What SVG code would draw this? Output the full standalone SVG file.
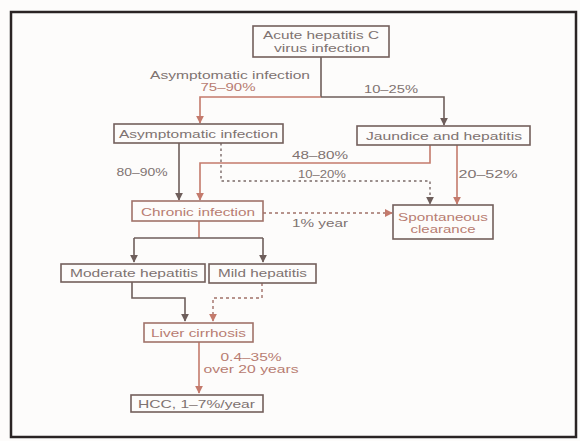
<svg xmlns="http://www.w3.org/2000/svg" width="580" height="441" viewBox="0 0 580 441">
<style>
text{font-family:"Liberation Sans",Arial,sans-serif;font-size:11.5px;fill:#7f7371;text-anchor:middle}
.r{fill:#b87c72}
.box{fill:none;stroke:#735f5c;stroke-width:1.6}
.boxr{fill:none;stroke:#a0726a;stroke-width:1.6}
.ln{fill:none;stroke:#6e5e5b;stroke-width:1.6}
.lr{fill:none;stroke:#c47a6c;stroke-width:1.6}
.dt{fill:none;stroke:#7a6a68;stroke-width:1.4;stroke-dasharray:2.5 3}
.dr{fill:none;stroke:#a07068;stroke-width:1.4;stroke-dasharray:3 3}
</style>
<defs>
<marker id="ag" viewBox="0 0 10 10" refX="9" refY="5" markerWidth="8" markerHeight="8" orient="auto" markerUnits="userSpaceOnUse"><path d="M0,0L10,5L0,10z" fill="#6e5e5b"/></marker>
<marker id="ar" viewBox="0 0 10 10" refX="9" refY="5" markerWidth="8" markerHeight="8" orient="auto" markerUnits="userSpaceOnUse"><path d="M0,0L10,5L0,10z" fill="#c47a6c"/></marker>
</defs>
<rect x="0" y="0" width="580" height="441" fill="#fdfcfb"/>
<rect x="11" y="12" width="565" height="425" fill="none" stroke="#2a2424" stroke-width="2.5"/>
<g id="connectors">
<path class="ln" d="M321,57V97"/>
<path class="lr" d="M321,97H200V123" marker-end="url(#ar)"/>
<path class="ln" d="M321,97H444V125" marker-end="url(#ag)"/>
<path class="ln" d="M179,143V200" marker-end="url(#ag)"/>
<path class="dt" d="M221,143V181H430V204" marker-end="url(#ag)"/>
<path class="lr" d="M430,145V163H200V200" marker-end="url(#ar)"/>
<path class="lr" d="M457,145V204" marker-end="url(#ar)"/>
<path class="dr" d="M263,213H392" marker-end="url(#ar)"/>
<path class="lr" d="M199,221V238"/>
<path class="ln" d="M134,238H263"/>
<path class="ln" d="M134,238V262" marker-end="url(#ag)"/>
<path class="ln" d="M263,238V262" marker-end="url(#ag)"/>
<path class="ln" d="M132,282V298H185V321" marker-end="url(#ag)"/>
<path class="dr" d="M262,283V298H213V321" marker-end="url(#ar)"/>
<path class="lr" d="M199,342V393" marker-end="url(#ar)"/>
</g>
<g id="labels">
<text x="230" y="79" textLength="160" lengthAdjust="spacingAndGlyphs">Asymptomatic infection</text>
<text x="228" y="91" textLength="55" lengthAdjust="spacingAndGlyphs" class="r">75–90%</text>
<text x="391" y="93" textLength="54" lengthAdjust="spacingAndGlyphs">10–25%</text>
<text x="320" y="159" textLength="56" lengthAdjust="spacingAndGlyphs">48–80%</text>
<text x="142" y="176" textLength="51" lengthAdjust="spacingAndGlyphs">80–90%</text>
<text x="322" y="178" textLength="48" lengthAdjust="spacingAndGlyphs">10–20%</text>
<text x="488" y="178" textLength="59" lengthAdjust="spacingAndGlyphs">20–52%</text>
<text x="320" y="227" textLength="56" lengthAdjust="spacingAndGlyphs">1% year</text>
<text x="251" y="361" textLength="61" lengthAdjust="spacingAndGlyphs" class="r">0.4–35%</text>
<text x="251" y="373" textLength="95" lengthAdjust="spacingAndGlyphs" class="r">over 20 years</text>
</g>
<g id="acute">
<rect class="box" x="253" y="26" width="136" height="31"/>
<text x="321" y="39" textLength="116" lengthAdjust="spacingAndGlyphs">Acute hepatitis C</text>
<text x="322" y="52" textLength="96" lengthAdjust="spacingAndGlyphs">virus infection</text>
</g>
<g id="asymptomatic">
<rect class="box" x="114" y="124" width="169" height="19"/>
<text x="198.5" y="138" textLength="159" lengthAdjust="spacingAndGlyphs">Asymptomatic infection</text>
</g>
<g id="jaundice">
<rect class="box" x="357" y="126" width="173" height="19"/>
<text x="444" y="140" textLength="156" lengthAdjust="spacingAndGlyphs">Jaundice and hepatitis</text>
</g>
<g id="chronic">
<rect class="boxr" x="132" y="201" width="131" height="20"/>
<text x="198" y="216" textLength="114" lengthAdjust="spacingAndGlyphs" class="r">Chronic infection</text>
</g>
<g id="spontaneous">
<rect class="box" x="393" y="205" width="100" height="34"/>
<text x="443" y="221" textLength="90" lengthAdjust="spacingAndGlyphs" class="r">Spontaneous</text>
<text x="443" y="233" textLength="65" lengthAdjust="spacingAndGlyphs" class="r">clearance</text>
</g>
<g id="moderate">
<rect class="box" x="61" y="264" width="144" height="18"/>
<text x="134" y="277" textLength="128" lengthAdjust="spacingAndGlyphs">Moderate hepatitis</text>
</g>
<g id="mild">
<rect class="box" x="209" y="264" width="107" height="19"/>
<text x="262.5" y="277" textLength="89" lengthAdjust="spacingAndGlyphs">Mild hepatitis</text>
</g>
<g id="cirrhosis">
<rect class="boxr" x="144" y="323" width="109" height="19"/>
<text x="198.5" y="337" textLength="95" lengthAdjust="spacingAndGlyphs" class="r">Liver cirrhosis</text>
</g>
<g id="hcc">
<rect class="box" x="131" y="395" width="132" height="17"/>
<text x="196.5" y="408" textLength="117" lengthAdjust="spacingAndGlyphs">HCC, 1–7%/year</text>
</g>
</svg>
